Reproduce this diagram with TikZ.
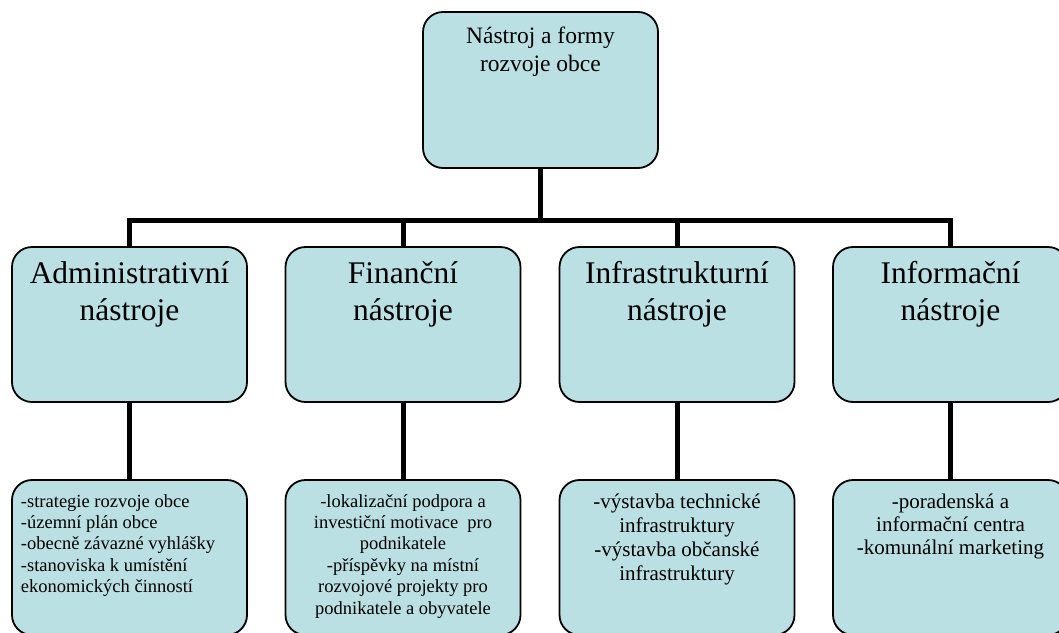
\documentclass[tikz,border=0pt]{standalone}
\usepackage{fontspec}
\setmainfont{Liberation Serif}
\usetikzlibrary{backgrounds}
\definecolor{boxfill}{RGB}{187,224,227}
\tikzset{
  box/.style={draw=black, line width=1.8pt, fill=boxfill, rounded corners=20pt,
    inner sep=0pt, outer sep=0pt, anchor=north west},
  conn/.style={line width=5pt, line join=miter},
}
\newcommand{\bxc}[4]{\begin{minipage}[c][#1][t]{235pt}#3\rule{0pt}{#2}#4\end{minipage}}
\begin{document}
\begin{tikzpicture}[x=1pt,y=-1pt]
\useasboundingbox (0,0) rectangle (1059,632);
\clip (0,0) rectangle (1059,632);
% top
\node[box] (top) at (423,12) {\bxc{156pt}{31pt}{\centering\fontsize{23.5}{28.5}\selectfont}{Nástroj a formy\\ rozvoje obce}};
% second row
\node[box] (adm) at (12,247) {\bxc{155pt}{36pt}{\centering\fontsize{31.5}{37}\selectfont}{Administrativní\\ nástroje}};
\node[box] (fin) at (285.5,247) {\bxc{155pt}{36pt}{\centering\fontsize{31.5}{37}\selectfont}{Finanční\\ nástroje}};
\node[box] (inf) at (559.5,247) {\bxc{155pt}{36pt}{\centering\fontsize{31.5}{37}\selectfont}{Infrastrukturní\\ nástroje}};
\node[box] (ifm) at (833,247) {\bxc{155pt}{36pt}{\centering\fontsize{31.5}{37}\selectfont}{Informační\\ nástroje}};
% bottom row
\node[box] (adm2) at (12,480) {\bxc{155pt}{27pt}{\raggedright\leftskip=9pt\fontsize{18.5}{21.4}\selectfont}{-strategie rozvoje obce\\ -územní plán obce\\ -obecně závazné vyhlášky\\ -stanoviska k umístění\\ ekonomických činností}};
\node[box] (fin2) at (285.5,480) {\bxc{155pt}{27pt}{\centering\fontsize{18.5}{21.4}\selectfont}{-lokalizační podpora a\\ investiční motivace~ pro\\ podnikatele\\ -příspěvky na místní\\ rozvojové projekty pro\\ podnikatele a obyvatele}};
\node[box] (inf2) at (559.5,480) {\bxc{155pt}{28pt}{\centering\fontsize{21}{24}\selectfont}{-výstavba technické\\ infrastruktury\\ -výstavba občanské\\ infrastruktury}};
\node[box] (ifm2) at (833,480) {\bxc{155pt}{28pt}{\centering\fontsize{21}{23.4}\selectfont}{-poradenská a\\ informační centra\\ -komunální marketing}};
\coordinate (bar) at (540.5,220);
\begin{scope}[on background layer]
\fill[white] (0,0) rectangle (1059,632);
\draw[conn] (top.south) -- (bar);
\draw[conn] (adm.north) |- (bar) -| (ifm.north);
\draw[conn] (fin.north) -- (fin.north |- bar);
\draw[conn] (inf.north) -- (inf.north |- bar);
\draw[conn] (adm.south) -- (adm2.north);
\draw[conn] (fin.south) -- (fin2.north);
\draw[conn] (inf.south) -- (inf2.north);
\draw[conn] (ifm.south) -- (ifm2.north);
\end{scope}
\end{tikzpicture}
\end{document}
